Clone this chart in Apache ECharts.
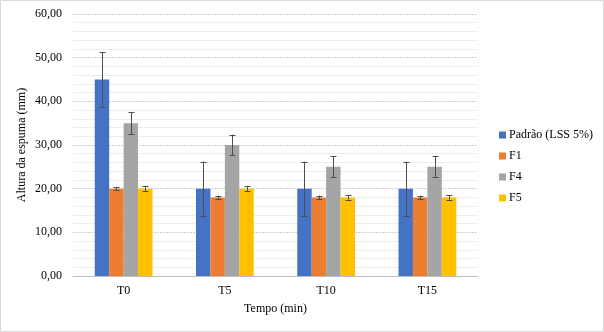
<!DOCTYPE html>
<html><head><meta charset="utf-8">
<script src="https://cdn.jsdelivr.net/npm/echarts@6/dist/echarts.min.js"></script>
<style>html,body{margin:0;padding:0;background:#fff}#c{width:604px;height:332px}</style>
</head><body><div id="c"></div>
<script>
var categories = ['T0', 'T5', 'T10', 'T15'];
var seriesNames = ['Padrão (LSS 5%)', 'F1', 'F4', 'F5'];
var padrao = [45, 20, 20, 20];
var f1 = [20, 18, 18, 18];
var f4 = [35, 30, 25, 25];
var f5 = [20, 20, 18, 18];
var padraoErr = [6.3, 6.2, 6.2, 6.2];
var f1Err = [0.4, 0.4, 0.4, 0.4];
var f4Err = [2.5, 2.4, 2.4, 2.4];
var f5Err = [0.5, 0.5, 0.5, 0.5];
var colors = ['#4472C4', '#ED7D31', '#A5A5A5', '#FFC000'];

var values = [padrao, f1, f4, f5];
var errs = [padraoErr, f1Err, f4Err, f5Err];
var catGap = 0.43;
var font = 'Liberation Serif';

var series = [];
values.forEach(function (v, i) {
  var s = {
    name: seriesNames[i], type: 'bar', data: v, barGap: 0, barCategoryGap: '43%',
    itemStyle: { color: colors[i] }
  };
  if (i === 2) {
    s.itemStyle.decal = { symbol: 'rect', symbolSize: 0.5, color: 'rgba(130,130,130,0.5)', dashArrayX: [1, 2], dashArrayY: [1, 2], rotation: 0 };
  }
  series.push(s);
});
values.forEach(function (v, i) {
  series.push({
    type: 'custom', silent: true, z: 10,
    data: v.map(function (val, k) { return [k, val, errs[i][k]]; }),
    renderItem: function (params, api) {
      var k = api.value(0), val = api.value(1), e = api.value(2);
      var band = api.size([1, 0])[0];
      var bw = band * (1 - catGap) / 4;
      var off = (i - 1.5) * bw;
      var top = api.coord([k, val + e]);
      var bot = api.coord([k, val - e]);
      var x = Math.round(top[0] + off) + 0.5;
      var st = { stroke: '#4d4d4d', lineWidth: 1 };
      return { type: 'group', children: [
        { type: 'line', shape: { x1: x, y1: top[1], x2: x, y2: bot[1] }, style: st },
        { type: 'line', shape: { x1: x - 3, y1: Math.round(top[1]) + 0.5, x2: x + 3, y2: Math.round(top[1]) + 0.5 }, style: st },
        { type: 'line', shape: { x1: x - 3, y1: Math.round(bot[1]) + 0.5, x2: x + 3, y2: Math.round(bot[1]) + 0.5 }, style: st }
      ] };
    }
  });
});

var chart = echarts.init(document.getElementById('c'), null, { renderer: 'canvas' });
chart.setOption({
  animation: false,
  textStyle: { fontFamily: font },
  graphic: [{ type: 'rect', shape: { x: 0.5, y: 0.5, width: 603, height: 331 }, style: { fill: 'none', stroke: '#d9d9d9', lineWidth: 1 }, silent: true }],
  grid: { left: 73, right: 126, top: 14, bottom: 56 },
  legend: {
    orient: 'vertical', left: 494, top: 124, itemGap: 9, itemWidth: 7, itemHeight: 7,
    icon: 'rect', data: seriesNames,
    textStyle: { fontFamily: font, fontSize: 12, color: '#000', padding: [0, 0, 0, -2] }
  },
  xAxis: {
    type: 'category', data: categories,
    name: 'Tempo (min)', nameLocation: 'middle', nameGap: 27, nameMoveOverlap: false,
    nameTextStyle: { fontFamily: font, fontSize: 12, color: '#000' },
    axisLine: { lineStyle: { color: '#bfbfbf' } },
    axisTick: { show: false },
    axisLabel: { fontFamily: font, fontSize: 12, color: '#000', margin: 9 }
  },
  yAxis: {
    type: 'value', min: 0, max: 60, interval: 10,
    name: 'Altura da espuma (mm)', nameLocation: 'middle', nameGap: 45, nameMoveOverlap: false,
    nameTextStyle: { fontFamily: font, fontSize: 12, color: '#000' },
    axisLine: { show: false }, axisTick: { show: false },
    axisLabel: { fontFamily: font, fontSize: 12, color: '#000', margin: 11,
      formatter: function (v) { return v.toFixed(2).replace('.', ','); } },
    splitLine: { lineStyle: { color: '#cfcfcf', type: [2, 1] } },
    minorTick: { show: false, splitNumber: 5 },
    minorSplitLine: { show: true, lineStyle: { color: '#ededed' } }
  },
  series: series
});
</script></body></html>
